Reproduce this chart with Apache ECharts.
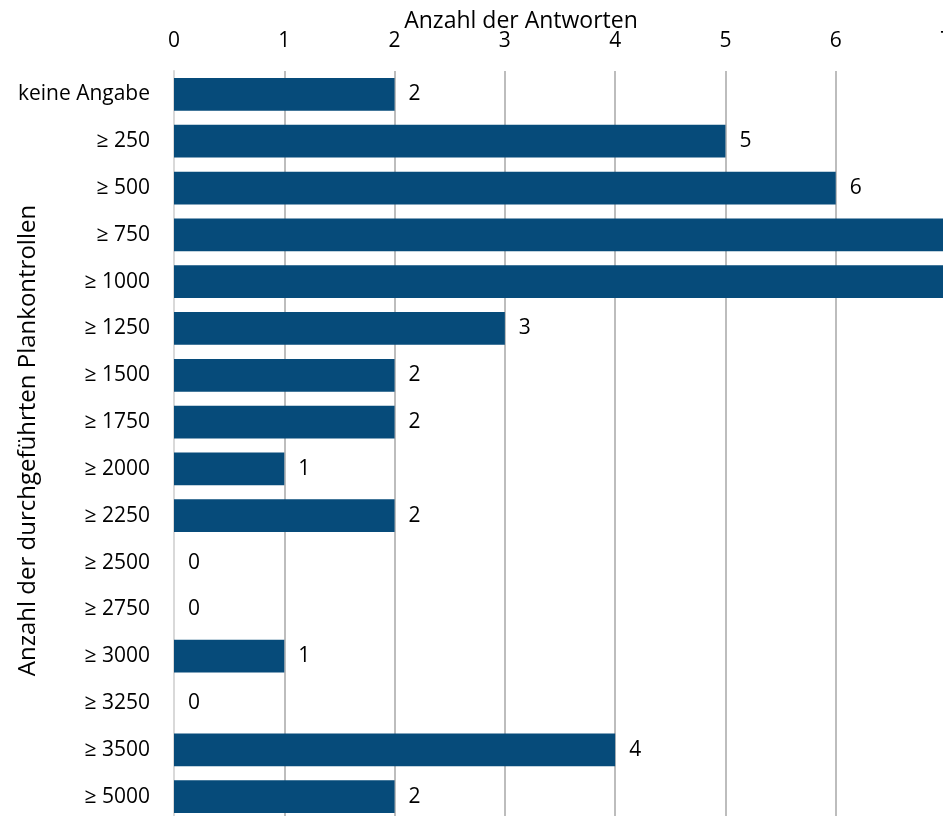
<!DOCTYPE html>
<html>
<head>
<meta charset="utf-8">
<script src="https://cdn.jsdelivr.net/npm/echarts@6/dist/echarts.min.js"></script>
<style>html,body{margin:0;padding:0;background:#fff}#chart{width:943px;height:816px}</style>
</head>
<body>
<div id="chart"></div>
<script>
const categories = ['keine Angabe','≥ 250','≥ 500','≥ 750','≥ 1000','≥ 1250','≥ 1500','≥ 1750','≥ 2000','≥ 2250','≥ 2500','≥ 2750','≥ 3000','≥ 3250','≥ 3500','≥ 5000'];
const values = [2,5,6,7,7,3,2,2,1,2,0,0,1,0,4,2];
const xTicks = [0,1,2,3,4,5,6,7];
const xTitle = 'Anzahl der Antworten';
const yTitle = 'Anzahl der durchgeführten Plankontrollen';

const FONT = 'Open Sans';
const chart = echarts.init(document.getElementById('chart'), null, {renderer:'canvas'});
chart.setOption({
  animation: false,
  textStyle: {fontFamily: FONT},
  grid: {left: 174, right: -3, top: 71, bottom: -4, outerBoundsMode: 'none', containLabel: false},
  graphic: [{
    type: 'text', x: 521, y: 21,
    style: {text: xTitle, font: '23px "Open Sans"', fill: '#000', textAlign: 'center', textVerticalAlign: 'middle'}
  }],
  xAxis: {
    type: 'value', position: 'top', min: xTicks[0], max: xTicks[xTicks.length-1], interval: 1,
    axisLine: {show: false}, axisTick: {show: false},
    axisLabel: {margin: 19, fontSize: 21, color: '#000', fontFamily: FONT, showMaxLabel: true},
    splitLine: {show: true, lineStyle: {color: '#bdbdbd', width: 2}}
  },
  yAxis: {
    type: 'category', data: categories, inverse: true,
    axisLine: {show: true, lineStyle: {color: '#d9d9d9', width: 2}},
    axisTick: {show: false},
    axisLabel: {margin: 24, fontSize: 21, color: '#000', fontFamily: FONT},
    name: yTitle, nameLocation: 'middle', nameGap: 146, nameRotate: 90, nameMoveOverlap: false,
    nameTextStyle: {fontSize: 24, color: '#000', fontFamily: FONT, verticalAlign: 'middle', padding: [0, 0, 0, 10]}
  },
  series: [{
    type: 'bar', data: values, barCategoryGap: '30%',
    itemStyle: {color: '#064b7a'},
    label: {show: true, position: 'right', distance: 14, fontSize: 21, color: '#000', fontFamily: FONT}
  }]
});
</script>
</body>
</html>
